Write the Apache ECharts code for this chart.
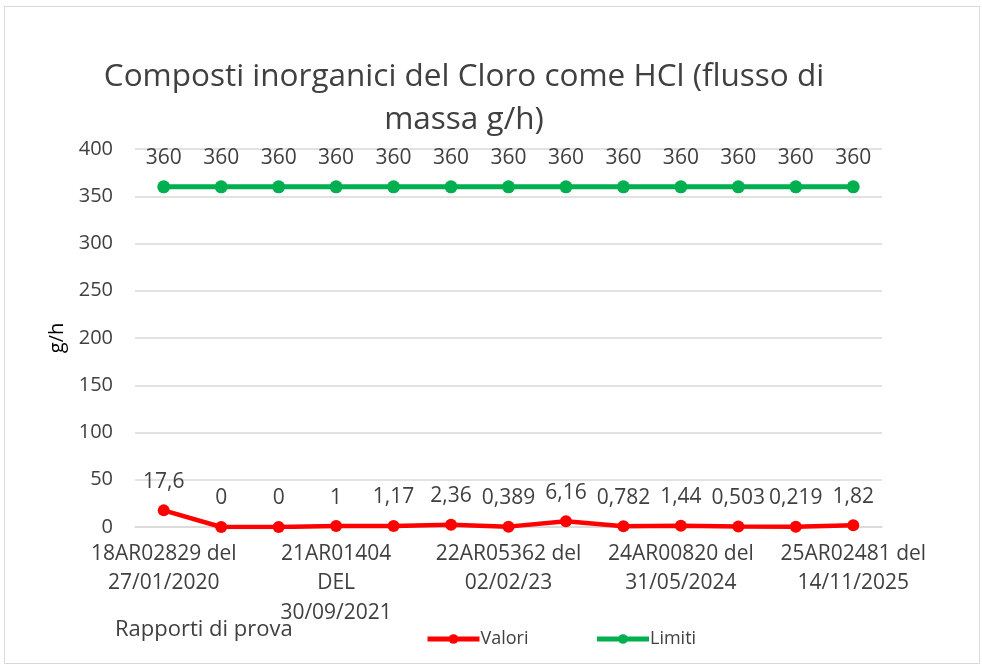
<!DOCTYPE html>
<html>
<head>
    <meta charset="UTF-8">
    <title>Composti inorganici del Cloro come HCl</title>
    <script src="https://cdn.jsdelivr.net/npm/echarts/dist/echarts.min.js"></script>
    <style>
        body { margin: 0; background: #fff; }
        #main { width: 982px; height: 669px; }
    </style>
</head>
<body>
    <div id="main"></div>
    <script type="text/javascript">
        // Rapporti di prova (only every third one is labelled on the axis)
        let rapporti = [
            '18AR02829 del\n27/01/2020', 'Rapporto 2', 'Rapporto 3',
            '21AR01404\nDEL\n30/09/2021', 'Rapporto 5', 'Rapporto 6',
            '22AR05362 del\n02/02/23', 'Rapporto 8', 'Rapporto 9',
            '24AR00820 del\n31/05/2024', 'Rapporto 11', 'Rapporto 12',
            '25AR02481 del\n14/11/2025'
        ];
        let valori = [17.6, 0, 0, 1, 1.17, 2.36, 0.389, 6.16, 0.782, 1.44, 0.503, 0.219, 1.82];
        let limiti = [360, 360, 360, 360, 360, 360, 360, 360, 360, 360, 360, 360, 360];

        let font = '"Open Sans", "Noto Sans", sans-serif';
        let fmt = p => String(p.value).replace('.', ',');

        let chart = echarts.init(document.getElementById('main'));

        let option = {
            backgroundColor: '#fff',
            textStyle: { fontFamily: font },
            title: {
                text: 'Composti inorganici del Cloro come HCl (flusso di\nmassa g/h)',
                left: 459,
                textAlign: 'center',
                top: 51,
                textStyle: { fontFamily: font, fontSize: 31.5, fontWeight: 'normal', color: '#404040', lineHeight: 43 }
            },
            graphic: [
                {
                    type: 'rect',
                    shape: { x: 4.5, y: 6.5, width: 975, height: 657 },
                    style: { fill: 'none', stroke: '#d9d9d9', lineWidth: 1 },
                    silent: true
                },
                {
                    type: 'text',
                    left: 115,
                    top: 619,
                    style: { text: 'Rapporti di prova', font: '22px ' + font, fill: '#404040' }
                }
            ],
            legend: {
                data: ['Valori', 'Limiti'],
                left: 420,
                top: 625,
                itemWidth: 52,
                itemHeight: 12,
                itemGap: 66,
                lineStyle: { width: 5 },
                textStyle: { fontFamily: font, fontSize: 18, color: '#404040', padding: [0, 0, 0, -4] }
            },
            grid: { left: 135, right: 100, top: 149, bottom: 142 },
            xAxis: {
                type: 'category',
                data: rapporti,
                boundaryGap: true,
                axisLine: { lineStyle: { color: '#d9d9d9', width: 1.5 } },
                axisTick: { show: false },
                axisLabel: {
                    interval: 2,
                    fontFamily: font,
                    fontSize: 21,
                    color: '#404040',
                    lineHeight: 29.5,
                    margin: 12
                }
            },
            yAxis: {
                type: 'value',
                min: 0,
                max: 400,
                interval: 50,
                name: 'g/h',
                nameLocation: 'middle',
                nameRotate: 90,
                nameGap: 68,
                nameTextStyle: { fontFamily: font, fontSize: 20, color: '#000' },
                axisLine: { show: false },
                axisTick: { show: false },
                axisLabel: { fontFamily: font, fontSize: 20, color: '#404040', margin: 22 },
                splitLine: { lineStyle: { color: '#d9d9d9', width: 1.5 } }
            },
            series: [
                {
                    name: 'Valori',
                    type: 'line',
                    data: valori,
                    color: '#ff0000',
                    symbol: 'circle',
                    symbolSize: 12,
                    lineStyle: { width: 4.5, color: '#ff0000' },
                    label: {
                        show: true,
                        position: 'top',
                        distance: 12,
                        formatter: fmt,
                        fontFamily: font,
                        fontSize: 21,
                        color: '#404040'
                    },
                    labelLayout: { hideOverlap: false }
                },
                {
                    name: 'Limiti',
                    type: 'line',
                    data: limiti,
                    color: '#00b050',
                    symbol: 'circle',
                    symbolSize: 13,
                    lineStyle: { width: 5, color: '#00b050' },
                    label: {
                        show: true,
                        position: 'top',
                        distance: 12,
                        formatter: fmt,
                        fontFamily: font,
                        fontSize: 21,
                        color: '#404040'
                    }
                }
            ]
        };

        chart.setOption(option);
    </script>
</body>
</html>
